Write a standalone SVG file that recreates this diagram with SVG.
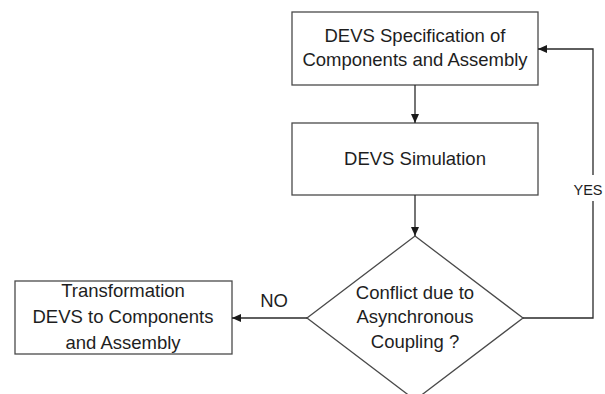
<svg xmlns="http://www.w3.org/2000/svg" width="605" height="394" viewBox="0 0 605 394">
<style>
.box{fill:#fff;stroke:#4a4a4a;stroke-width:1.3}
.t{font-family:"Liberation Sans",Arial,sans-serif;font-size:18.5px;fill:#1e1e1e;text-anchor:middle}
.c{fill:none;stroke:#2a2a2a;stroke-width:1.3}
</style>
<defs>
<marker id="ah" markerWidth="9" markerHeight="8" refX="9" refY="4" orient="auto" markerUnits="userSpaceOnUse">
<path d="M0,0 L9,4 L0,8 Z" fill="#1a1a1a"/>
</marker>
</defs>
<rect width="605" height="394" fill="#fff"/>
<g id="spec">
<rect class="box" x="292" y="12" width="246" height="73"/>
<text class="t" x="415" y="42">DEVS Specification of</text>
<text class="t" x="415" y="66">Components and Assembly</text>
</g>
<g id="sim">
<rect class="box" x="292" y="123" width="246" height="72"/>
<text class="t" x="415" y="165">DEVS Simulation</text>
</g>
<g id="decision">
<path class="box" d="M415,236 L523,318 L415,400 L307,318 Z"/>
<text class="t" x="415" y="299">Conflict due to</text>
<text class="t" x="415" y="323">Asynchronous</text>
<text class="t" x="415" y="348">Coupling ?</text>
</g>
<g id="transform">
<rect class="box" x="15" y="281" width="217" height="73"/>
<text class="t" x="123" y="297">Transformation</text>
<text class="t" x="123" y="323">DEVS to Components</text>
<text class="t" x="123" y="349">and Assembly</text>
</g>
<g id="connectors">
<line class="c" x1="415" y1="85" x2="415" y2="123" marker-end="url(#ah)"/>
<line class="c" x1="415" y1="195" x2="415" y2="236" marker-end="url(#ah)"/>
<line class="c" x1="307" y1="318" x2="232" y2="318" marker-end="url(#ah)"/>
<polyline class="c" points="523,318 593,318 593,201"/>
<polyline class="c" points="593,175 593,49 538,49" marker-end="url(#ah)"/>
<text class="t" x="274" y="307">NO</text>
<text class="t" x="588" y="195" style="font-size:14.5px">YES</text>
</g>
</svg>
